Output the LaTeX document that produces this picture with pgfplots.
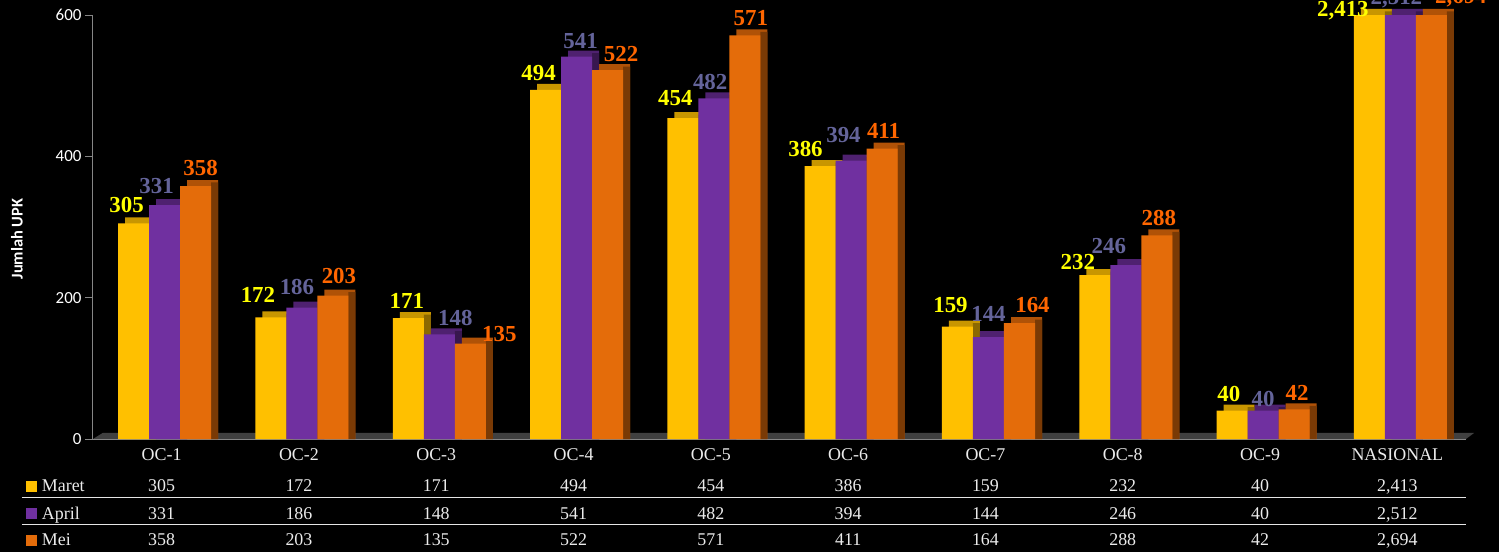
\documentclass[border=0pt]{standalone}
\usepackage{pgfplots}
\pgfplotsset{compat=1.18}
\usepackage{pgfplotstable}
\usepackage{fontspec}
\setmainfont{Liberation Serif}
\newfontfamily\carlito{Carlito}

\definecolor{yfront}{HTML}{FFC000}
\definecolor{ytop}{HTML}{C89600}
\definecolor{yside}{HTML}{8C6900}
\definecolor{pfront}{HTML}{7030A0}
\definecolor{ptop}{HTML}{4F2170}
\definecolor{pside}{HTML}{38174F}
\definecolor{ofront}{HTML}{E46C0A}
\definecolor{otop}{HTML}{B05207}
\definecolor{oside}{HTML}{7A3A05}
\definecolor{ylab}{HTML}{FFFF00}
\definecolor{plab}{HTML}{64649A}
\definecolor{olab}{HTML}{FF6600}
\definecolor{floorcol}{HTML}{404040}
\definecolor{axcol}{HTML}{868686}

% x: category index; m/a/e: Maret/April/Mei (NASIONAL capped at axis top 600)
% lm/la/le: labels; dx*/gy*: label offsets (bp)
\pgfplotstableread{
x m a e lm la le dxm gym dxa gya dxe gye
0 305 331 358 305 331 358 -7 11 -8 12 5 11
1 172 186 203 172 186 203 -13 15 -5 13 6 12
2 171 148 135 171 148 135 -1.5 10 16 9 29 2
3 494 541 522 494 541 522 -7 9 4 8 13.5 9
4 454 482 571 454 482 571 -7.5 12.7 -3.7 9 6 9.5
5 386 394 411 386 394 411 -14.7 10 -7.7 18 1.4 10
6 159 144 164 159 144 164 -7 14 0 15.5 13 11
7 232 246 288 232 246 288 -17 6 -17 12 2 9.5
8 40 40 42 40 40 42 -3.3 9 0 4 3 9.3
9 600 600 600 2,413 2,512 2,694 -26.5 -1.7 -4 11 29.5 12
}\data

\newcommand{\lblfont}{\bfseries\fontsize{23}{23}\selectfont}
\newcommand{\tabfont}{\fontsize{18}{18}\selectfont}

\begin{document}
\begin{tikzpicture}
\fill[black] (-93bp,-113bp) rectangle (1406bp,439bp);
\begin{axis}[
  at={(0,0)}, anchor=south west,
  scale only axis, width=1373bp, height=424bp,
  xmin=-0.5, xmax=9.5, ymin=0, ymax=600,
  clip=false,
  axis x line=none,
  axis y line*=left,
  y axis line style={draw=axcol, line width=1bp},
  ytick={0,200,400,600},
  tick align=outside, major tick length=8bp,
  ytick style={draw=axcol, line width=1bp},
  /pgf/number format/assume math mode=true,
  yticklabel style={font=\carlito\fontsize{17}{17}\selectfont, text=white},
]
\fill[floorcol] (axis cs:-0.5,0) -- (axis cs:9.5,0) -- (axis cs:9.558,8.5) -- (axis cs:-0.43,8.5) -- cycle;
\draw[axcol, line width=1bp] (axis cs:-0.5,0) -- (axis cs:9.5,0);

% ---- Maret ----
\addplot[ybar, bar width=0.2258, bar shift=-0.1528, fill=ytop, draw=none] table[x=x, y expr=\thisrow{m}+8.5] {\data};
\addplot[ybar, bar width=0.051, bar shift=-0.0654, fill=yside, draw=none] table[x=x, y expr=\thisrow{m}+5] {\data};
\addplot[ybar, bar width=0.2258, bar shift=-0.2038, fill=yfront, draw=none,
  point meta=explicit symbolic, nodes near coords,
  visualization depends on={\thisrow{dxm} \as \ldx},
  visualization depends on={\thisrow{gym} \as \ldy},
  every node near coord/.append style={anchor=base, inner sep=0pt, xshift={(\ldx-27.98)*1bp}, yshift={\ldy*1bp}, font=\lblfont, text=ylab}]
  table[x=x, y=m, meta=lm] {\data};

% ---- April ----
\addplot[ybar, bar width=0.2258, bar shift=0.073, fill=ptop, draw=none] table[x=x, y expr=\thisrow{a}+8.5] {\data};
\addplot[ybar, bar width=0.051, bar shift=0.1604, fill=pside, draw=none] table[x=x, y expr=\thisrow{a}+5] {\data};
\addplot[ybar, bar width=0.2258, bar shift=0.022, fill=pfront, draw=none,
  point meta=explicit symbolic, nodes near coords,
  visualization depends on={\thisrow{dxa} \as \ldx},
  visualization depends on={\thisrow{gya} \as \ldy},
  every node near coord/.append style={anchor=base, inner sep=0pt, xshift={(\ldx+3.02)*1bp}, yshift={\ldy*1bp}, font=\lblfont, text=plab}]
  table[x=x, y=a, meta=la] {\data};

% ---- Mei ----
\addplot[ybar, bar width=0.2258, bar shift=0.2988, fill=otop, draw=none] table[x=x, y expr=\thisrow{e}+8.5] {\data};
\addplot[ybar, bar width=0.051, bar shift=0.3862, fill=oside, draw=none] table[x=x, y expr=\thisrow{e}+5] {\data};
\addplot[ybar, bar width=0.2258, bar shift=0.2478, fill=ofront, draw=none,
  point meta=explicit symbolic, nodes near coords,
  visualization depends on={\thisrow{dxe} \as \ldx},
  visualization depends on={\thisrow{gye} \as \ldy},
  every node near coord/.append style={anchor=base, inner sep=0pt, xshift={(\ldx+34.02)*1bp}, yshift={\ldy*1bp}, font=\lblfont, text=olab}]
  table[x=x, y=e, meta=le] {\data};
\end{axis}

% y label
\node[rotate=90, font=\carlito\bfseries\fontsize{16.5}{16.5}\selectfont, text=white] at (-76bp,200bp) {Jumlah UPK};

% data table below the chart
\foreach \i/\n/\va/\vb/\vc in {0/OC-1/305/331/358, 1/OC-2/172/186/203, 2/OC-3/171/148/135,
  3/OC-4/494/541/522, 4/OC-5/454/482/571, 5/OC-6/386/394/411, 6/OC-7/159/144/164,
  7/OC-8/232/246/288, 8/OC-9/40/40/42, 9/NASIONAL/{2,413}/{2,512}/{2,694}} {
  \pgfmathsetmacro{\cx}{(\i+0.5)*137.3}
  \node[anchor=base, inner sep=0pt, font=\tabfont, text=white!92!black] at (\cx bp,-21.7bp) {\n};
  \node[anchor=base, inner sep=0pt, font=\tabfont, text=white!92!black] at (\cx bp,-52.7bp) {\va};
  \node[anchor=base, inner sep=0pt, font=\tabfont, text=white!92!black] at (\cx bp,-80bp) {\vb};
  \node[anchor=base, inner sep=0pt, font=\tabfont, text=white!92!black] at (\cx bp,-106.3bp) {\vc};
}
\draw[white!90!black, line width=1bp] (-71bp,-58.3bp) -- (1373bp,-58.3bp);
\draw[white!90!black, line width=1bp] (-71bp,-85.3bp) -- (1373bp,-85.3bp);
\fill[yfront] (-67bp,-53bp) rectangle (-56bp,-42bp);
\fill[pfront] (-67bp,-80.3bp) rectangle (-56bp,-69.3bp);
\fill[ofront] (-67bp,-106.6bp) rectangle (-56bp,-95.6bp);
\node[anchor=base west, inner sep=0pt, font=\tabfont, text=white!92!black] at (-51.3bp,-52.7bp) {Maret};
\node[anchor=base west, inner sep=0pt, font=\tabfont, text=white!92!black] at (-51.3bp,-80bp) {April};
\node[anchor=base west, inner sep=0pt, font=\tabfont, text=white!92!black] at (-51.3bp,-106.3bp) {Mei};

\pgfresetboundingbox
\useasboundingbox (-93bp,-113bp) rectangle (1406bp,439bp);
\end{tikzpicture}
\end{document}
